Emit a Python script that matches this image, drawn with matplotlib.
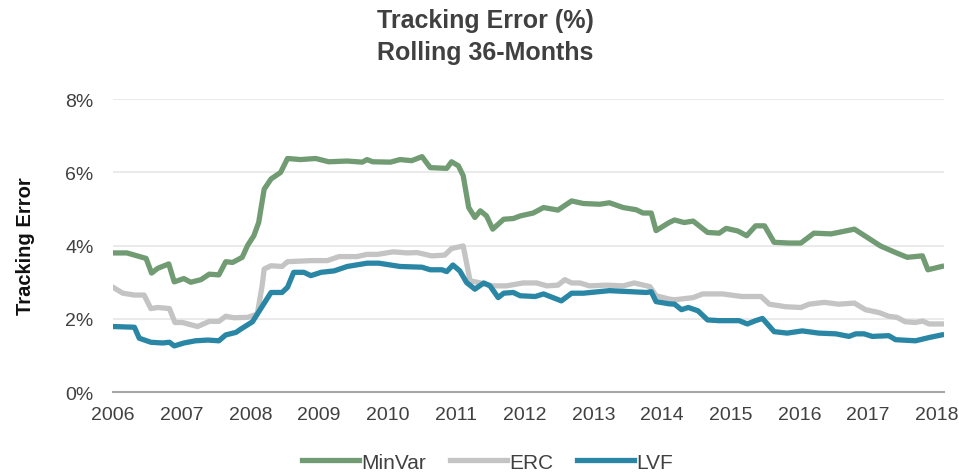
import matplotlib
matplotlib.use("Agg")
import matplotlib.pyplot as plt
from matplotlib.ticker import FuncFormatter

plt.rcParams['font.family'] = ['Liberation Sans', 'DejaVu Sans']

# values (decimal year, tracking error in %)
minvar_x = [2006.00, 2006.20, 2006.48, 2006.56, 2006.65, 2006.81, 2006.89, 2007.03, 2007.13,
            2007.28, 2007.40, 2007.54, 2007.64, 2007.74, 2007.88, 2007.96, 2008.05, 2008.12,
            2008.20, 2008.30, 2008.44, 2008.54, 2008.73, 2008.95, 2009.14, 2009.41, 2009.63,
            2009.70, 2009.78, 2010.04, 2010.18, 2010.35, 2010.50, 2010.62, 2010.86, 2010.93,
            2011.03, 2011.10, 2011.18, 2011.27, 2011.35, 2011.44, 2011.53, 2011.69, 2011.83,
            2011.93, 2012.12, 2012.27, 2012.48, 2012.68, 2012.85, 2013.09, 2013.23, 2013.43,
            2013.62, 2013.72, 2013.84, 2013.91, 2014.10, 2014.18, 2014.32, 2014.45, 2014.66,
            2014.83, 2014.93, 2015.10, 2015.23, 2015.36, 2015.49, 2015.63, 2015.85, 2016.02,
            2016.21, 2016.46, 2016.62, 2016.80, 2016.99, 2017.18, 2017.40, 2017.57, 2017.79,
            2017.87, 2018.07]
minvar = [3.80, 3.80, 3.65, 3.25, 3.38, 3.50, 3.01, 3.10, 3.00,
          3.07, 3.22, 3.20, 3.56, 3.54, 3.68, 4.01, 4.27, 4.63,
          5.54, 5.82, 6.00, 6.38, 6.35, 6.38, 6.29, 6.31, 6.28,
          6.35, 6.29, 6.28, 6.35, 6.32, 6.43, 6.13, 6.11, 6.29,
          6.18, 5.91, 5.04, 4.77, 4.95, 4.81, 4.45, 4.72, 4.74,
          4.81, 4.89, 5.04, 4.97, 5.22, 5.15, 5.13, 5.17, 5.04,
          4.98, 4.89, 4.89, 4.41, 4.63, 4.70, 4.63, 4.67, 4.36,
          4.34, 4.47, 4.40, 4.27, 4.54, 4.54, 4.09, 4.07, 4.07,
          4.34, 4.32, 4.38, 4.45, 4.22, 3.99, 3.81, 3.68, 3.72,
          3.34, 3.43]

erc_x = [2006.00, 2006.14, 2006.31, 2006.45, 2006.55, 2006.65, 2006.82, 2006.90, 2007.01,
         2007.23, 2007.40, 2007.54, 2007.64, 2007.76, 2007.96, 2008.10, 2008.17, 2008.20,
         2008.30, 2008.46, 2008.54, 2008.88, 2009.12, 2009.29, 2009.55, 2009.70, 2009.85,
         2010.08, 2010.28, 2010.43, 2010.64, 2010.83, 2010.93, 2011.10, 2011.20, 2011.35,
         2011.53, 2011.73, 2011.97, 2012.17, 2012.32, 2012.48, 2012.58, 2012.68, 2012.80,
         2012.94, 2013.18, 2013.43, 2013.59, 2013.82, 2013.91, 2014.10, 2014.18, 2014.45,
         2014.59, 2014.88, 2015.16, 2015.44, 2015.56, 2015.80, 2016.02, 2016.14, 2016.36,
         2016.57, 2016.80, 2016.96, 2017.16, 2017.30, 2017.42, 2017.54, 2017.69, 2017.79,
         2017.89, 2018.07]
erc = [2.86, 2.70, 2.65, 2.65, 2.28, 2.31, 2.28, 1.90, 1.90,
       1.79, 1.93, 1.93, 2.07, 2.03, 2.04, 2.13, 2.90, 3.36,
       3.45, 3.43, 3.56, 3.59, 3.59, 3.70, 3.70, 3.76, 3.76,
       3.83, 3.80, 3.81, 3.72, 3.74, 3.92, 3.99, 3.04, 2.98,
       2.90, 2.90, 2.98, 2.98, 2.90, 2.92, 3.07, 2.98, 2.98,
       2.90, 2.92, 2.90, 2.98, 2.88, 2.63, 2.54, 2.52, 2.58,
       2.68, 2.68, 2.61, 2.61, 2.40, 2.33, 2.31, 2.40, 2.45,
       2.40, 2.43, 2.25, 2.17, 2.07, 2.04, 1.92, 1.90, 1.94,
       1.86, 1.86]

lvf_x = [2006.00, 2006.31, 2006.38, 2006.55, 2006.72, 2006.82, 2006.89, 2007.03, 2007.20,
         2007.38, 2007.54, 2007.64, 2007.79, 2007.86, 2008.03, 2008.10, 2008.30, 2008.46,
         2008.54, 2008.63, 2008.78, 2008.88, 2009.03, 2009.22, 2009.41, 2009.70, 2009.87,
         2010.18, 2010.50, 2010.62, 2010.79, 2010.86, 2010.95, 2011.05, 2011.15, 2011.27,
         2011.40, 2011.49, 2011.61, 2011.69, 2011.83, 2011.93, 2012.15, 2012.27, 2012.53,
         2012.68, 2012.85, 2013.23, 2013.77, 2013.84, 2013.91, 2014.10, 2014.18, 2014.28,
         2014.38, 2014.52, 2014.66, 2014.83, 2015.12, 2015.24, 2015.36, 2015.46, 2015.63,
         2015.82, 2016.04, 2016.28, 2016.53, 2016.72, 2016.82, 2016.94, 2017.06, 2017.30,
         2017.40, 2017.69, 2017.89, 2018.07]
lvf = [1.79, 1.77, 1.47, 1.36, 1.34, 1.36, 1.26, 1.34, 1.40,
       1.42, 1.40, 1.56, 1.63, 1.72, 1.92, 2.13, 2.72, 2.72,
       2.86, 3.27, 3.27, 3.18, 3.27, 3.31, 3.43, 3.52, 3.52,
       3.43, 3.41, 3.34, 3.34, 3.29, 3.47, 3.31, 2.99, 2.81,
       2.98, 2.90, 2.58, 2.70, 2.72, 2.63, 2.61, 2.68, 2.49,
       2.70, 2.70, 2.77, 2.72, 2.74, 2.47, 2.41, 2.40, 2.25,
       2.31, 2.22, 1.97, 1.95, 1.95, 1.86, 1.95, 2.01, 1.65,
       1.61, 1.67, 1.61, 1.59, 1.52, 1.59, 1.59, 1.52, 1.54,
       1.43, 1.40, 1.49, 1.56]

years = list(range(2006, 2019))
yticks = [0, 2, 4, 6, 8]

fig = plt.figure(figsize=(9.59, 4.77), dpi=100)
ax = fig.add_axes([0.118, 0.176, 0.866, 0.614])

ax.plot(minvar_x, minvar, color='#719b73', lw=3.8, label='MinVar', solid_joinstyle='round')
ax.plot(erc_x, erc, color='#c4c4c4', lw=3.8, label='ERC', solid_joinstyle='round')
ax.plot(lvf_x, lvf, color='#2a86a5', lw=3.8, label='LVF', solid_joinstyle='round')

ax.set_xlim(2006, 2018.1)
ax.set_ylim(0, 8)
ax.set_xticks(years)
ax.set_yticks(yticks)
ax.yaxis.set_major_formatter(FuncFormatter(lambda v, p: '%d%%' % v))
ax.grid(axis='y', color='#e6e6e6', lw=1.2)
ax.set_axisbelow(True)
for s in ['top', 'right', 'left']:
    ax.spines[s].set_visible(False)
ax.spines['bottom'].set_color('#a6a6a6')
ax.spines['bottom'].set_linewidth(1.5)
ax.tick_params(axis='both', length=0, labelsize=14, colors='#404040')
ax.tick_params(axis='y', pad=14)
ax.tick_params(axis='x', pad=10)

ax.set_ylabel('Tracking Error', fontsize=14.5, fontweight='bold', color='#111111', labelpad=22)
fig.text(0.506, 0.955, 'Tracking Error (%)', fontsize=18, fontweight='bold',
         color='#404040', ha='center', va='center')
fig.text(0.506, 0.889, 'Rolling 36-Months', fontsize=18, fontweight='bold',
         color='#404040', ha='center', va='center')

ax.legend(loc='center', bbox_to_anchor=(0.451, -0.239), ncol=3, frameon=False,
          fontsize=15, handlelength=2.74, handletextpad=0.1, columnspacing=1.15,
          labelcolor='#404040')

fig.savefig('out.png', dpi=100)
